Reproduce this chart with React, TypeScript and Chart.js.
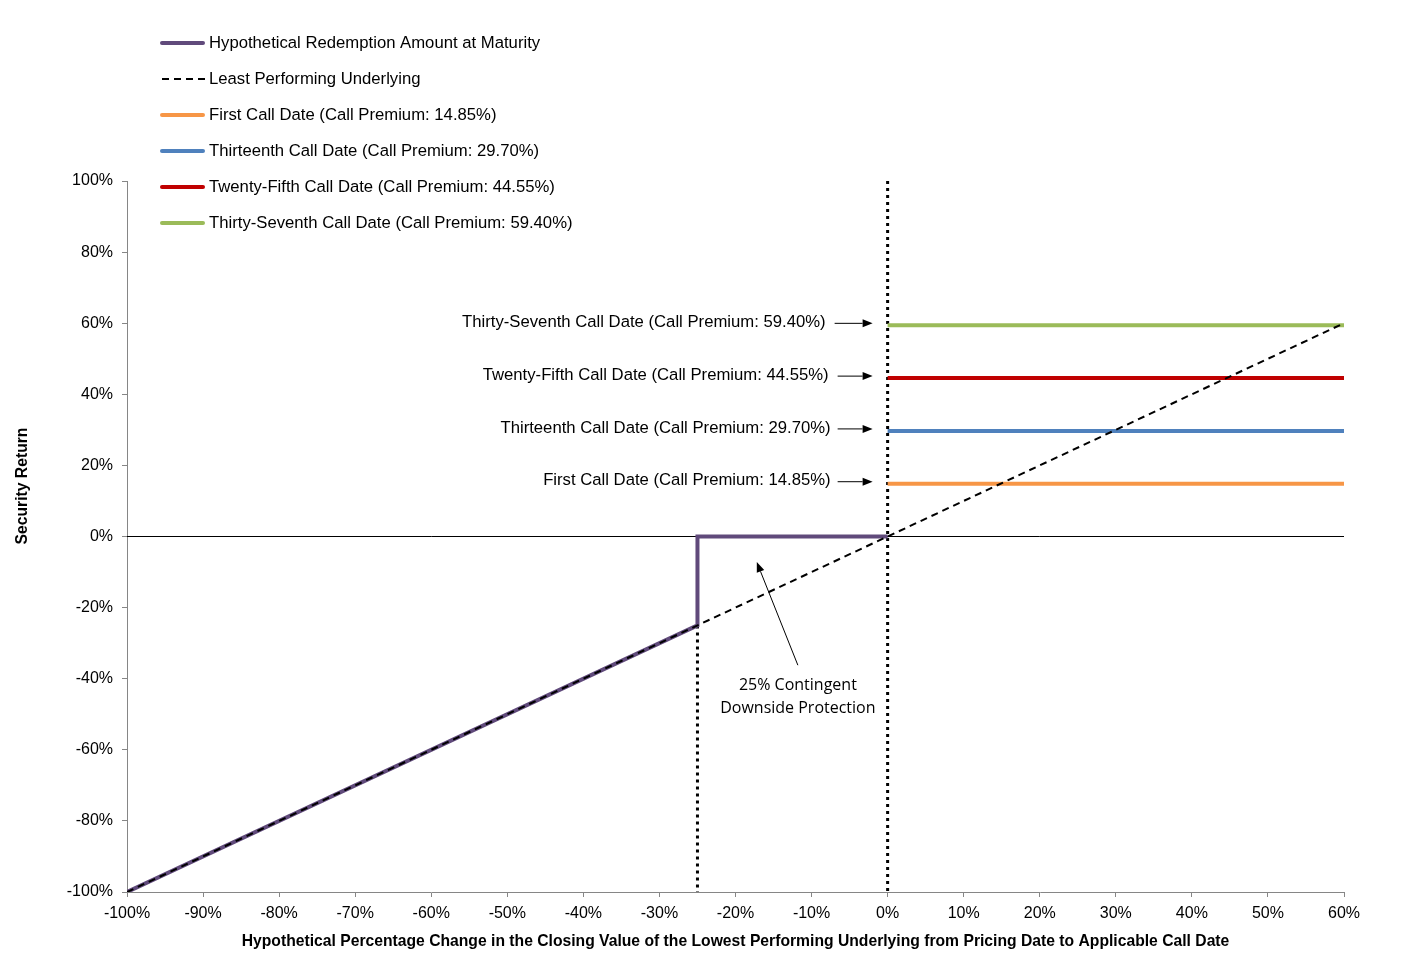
import React, { useEffect, useRef } from "react";
import { Chart, registerables } from "chart.js";

Chart.register(...registerables);

// ---- data ----
const underlyingX = [-100, 60];
const underlyingY = [-100, 60];
const redemptionX = [-100, -25, -25, 0];
const redemptionY = [-100, -25, 0, 0];
const callNames = [
  "First Call Date (Call Premium: 14.85%)",
  "Thirteenth Call Date (Call Premium: 29.70%)",
  "Twenty-Fifth Call Date (Call Premium: 44.55%)",
  "Thirty-Seventh Call Date (Call Premium: 59.40%)",
];
const callPremiums = [14.85, 29.7, 44.55, 59.4];
const callRangeX = [0, 60];
const barrierX = -25;
const barrierRangeY = [-25, -100];
const pricingLineRangeY = [100, -100];
const zeroLineX = [-100, 60];
const protectionLabel = ["25% Contingent", "Downside Protection"];
const xTitle =
  "Hypothetical Percentage Change in the Closing Value of the Lowest Performing Underlying from Pricing Date to Applicable Call Date";
const yTitle = "Security Return";
const redemptionName = "Hypothetical Redemption Amount at Maturity";
const underlyingName = "Least Performing Underlying";

// ---- styles ----
const callColors = ["#F79646", "#4F81BD", "#C00000", "#9BBB59"];
const purple = "#604A7B";
const FONT = "'Liberation Sans', Arial, sans-serif";

const pts = (xs: number[], ys: number[]) => xs.map((x, i) => ({ x, y: ys[i] }));

const legendPlugin = {
  id: "customLegend",
  afterDraw(chart: any) {
    const ctx = chart.ctx;
    const items = chart.data.datasets.filter((d: any) => d.inLegend);
    ctx.save();
    ctx.font = `16.7px ${FONT}`;
    ctx.textBaseline = "middle";
    ctx.fillStyle = "#000";
    items.forEach((d: any, i: number) => {
      const y = 43 + i * 36;
      ctx.beginPath();
      ctx.strokeStyle = d.borderColor;
      ctx.lineWidth = d.borderWidth;
      ctx.lineCap = d.borderDash && d.borderDash.length ? "butt" : "round";
      ctx.setLineDash(d.borderDash || []);
      ctx.moveTo(162, y);
      ctx.lineTo(d.borderDash && d.borderDash.length ? 206 : 203, y);
      ctx.stroke();
      ctx.setLineDash([]);
      ctx.fillText(d.label, 209, y);
    });
    ctx.restore();
  },
};

function arrow(ctx: any, x1: number, y1: number, x2: number, y2: number) {
  const ang = Math.atan2(y2 - y1, x2 - x1);
  const hl = 10;
  const hw = 4;
  const bx = x2 - hl * Math.cos(ang);
  const by = y2 - hl * Math.sin(ang);
  ctx.beginPath();
  ctx.strokeStyle = "#000";
  ctx.lineWidth = 1;
  ctx.moveTo(x1, y1);
  ctx.lineTo(bx, by);
  ctx.stroke();
  ctx.beginPath();
  ctx.fillStyle = "#000";
  ctx.moveTo(x2, y2);
  ctx.lineTo(bx + hw * Math.sin(ang), by - hw * Math.cos(ang));
  ctx.lineTo(bx - hw * Math.sin(ang), by + hw * Math.cos(ang));
  ctx.closePath();
  ctx.fill();
}

const annotationPlugin = {
  id: "annotations",
  afterDraw(chart: any) {
    const ctx = chart.ctx;
    const xs = chart.scales.x;
    const ys = chart.scales.y;
    ctx.save();
    // call date labels with arrows
    const x0 = xs.getPixelForValue(callRangeX[0]);
    ctx.font = `16.7px ${FONT}`;
    ctx.textAlign = "right";
    ctx.textBaseline = "middle";
    ctx.fillStyle = "#000";
    callNames.forEach((name, i) => {
      const y = ys.getPixelForValue(callPremiums[i]) - 3;
      ctx.fillStyle = "#000";
      ctx.fillText(name, x0 - 57 - (i === 3 ? 5 : i === 2 ? 2 : 0), y);
      arrow(ctx, x0 - 50 - (i === 3 ? 3 : 0), y + 1, x0 - 15, y + 1);
    });
    // protection label
    ctx.font = `16px 'Open Sans', 'DejaVu Sans', sans-serif`;
    ctx.textAlign = "center";
    ctx.fillStyle = "#000";
    const tx = xs.getPixelForValue(-11.8);
    ctx.fillText(protectionLabel[0], tx, ys.getPixelForValue(-41.2) + 2);
    ctx.fillText(protectionLabel[1], tx, ys.getPixelForValue(-47.7) + 2);
    arrow(
      ctx,
      xs.getPixelForValue(-11.8),
      ys.getPixelForValue(-36.2),
      xs.getPixelForValue(-17.2),
      ys.getPixelForValue(-7.2)
    );
    // y title
    ctx.translate(23, 486);
    ctx.rotate(-Math.PI / 2);
    ctx.font = `bold 15.7px ${FONT}`;
    ctx.textAlign = "center";
    ctx.fillText(yTitle, 0, 0);
    ctx.restore();
  },
};

export default function App() {
  const ref = useRef<HTMLCanvasElement>(null);
  useEffect(() => {
    if (!ref.current) return;
    const datasets: any[] = [
      {
        label: redemptionName,
        data: pts(redemptionX, redemptionY),
        borderColor: purple,
        borderWidth: 4,
        inLegend: true,
        order: 1,
      },
      {
        label: underlyingName,
        data: pts(underlyingX, underlyingY),
        borderColor: "#000",
        borderWidth: 2,
        borderDash: [7, 5],
        inLegend: true,
        order: 0,
      },
      ...callNames.map((name, i) => ({
        label: name,
        data: pts(callRangeX, [callPremiums[i], callPremiums[i]]),
        borderColor: callColors[i],
        borderWidth: 4,
        inLegend: true,
        order: 2,
      })),
      {
        label: "zero",
        data: pts(zeroLineX, [0, 0]),
        borderColor: "#000",
        borderWidth: 1,
        order: 4,
      },
      {
        label: "barrier",
        data: pts([barrierX, barrierX], barrierRangeY),
        borderColor: "#000",
        borderWidth: 3,
        borderDash: [3, 4],
        order: 3,
      },
      {
        label: "pricing",
        data: pts([callRangeX[0], callRangeX[0]], pricingLineRangeY),
        borderColor: "#000",
        borderWidth: 3,
        borderDash: [3, 4],
        order: 3,
      },
    ];
    datasets.forEach((d) => {
      d.pointRadius = 0;
      d.pointHoverRadius = 0;
      d.fill = false;
      d.tension = 0;
      d.borderCapStyle = "butt";
      d.borderJoinStyle = "miter";
    });
    const chart = new Chart(ref.current, {
      type: "line",
      data: { datasets },
      options: {
        animation: false,
        responsive: true,
        maintainAspectRatio: false,
        layout: { padding: { left: 0, right: 69, top: 181, bottom: 0 } },
        plugins: {
          legend: { display: false },
          tooltip: { enabled: false },
        },
        scales: {
          x: {
            type: "linear",
            min: -100,
            max: 60,
            grid: {
              display: true,
              drawOnChartArea: false,
              drawTicks: true,
              tickLength: 5,
              color: "#868686",
            },
            border: { display: true, color: "#868686", width: 1 },
            ticks: {
              stepSize: 10,
              color: "#000",
              font: { family: FONT, size: 16 },
              padding: 7,
              maxRotation: 0,
              autoSkip: false,
              callback: (v: any) => `${v}%`,
            },
            title: {
              display: true,
              text: xTitle,
              color: "#000",
              font: { family: FONT, size: 15.7, weight: "bold" },
              padding: { top: 0, bottom: 22 },
            },
            afterFit: (s: any) => {
              s.height = 81;
            },
          },
          y: {
            type: "linear",
            min: -100,
            max: 100,
            grid: {
              display: true,
              drawOnChartArea: false,
              drawTicks: true,
              tickLength: 5,
              color: "#868686",
            },
            border: { display: true, color: "#868686", width: 1 },
            ticks: {
              stepSize: 20,
              color: "#000",
              font: { family: FONT, size: 16 },
              padding: 9,
              callback: (v: any) => `${v}%`,
            },
            afterFit: (s: any) => {
              s.width = 127;
            },
          },
        },
      } as any,
      plugins: [legendPlugin, annotationPlugin],
    });
    return () => chart.destroy();
  }, []);
  return (
    <div style={{ position: "fixed", left: 0, top: 0, width: 1413, height: 973, background: "#fff" }}>
      <canvas ref={ref} />
    </div>
  );
}
